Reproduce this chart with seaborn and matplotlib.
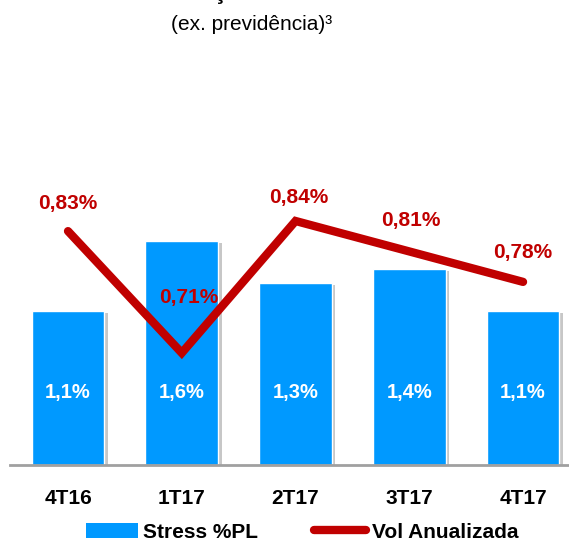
import matplotlib
matplotlib.use("Agg")
import numpy as np
import pandas as pd
import matplotlib.pyplot as plt
import matplotlib.patheffects as pe
from matplotlib.patches import Patch
from matplotlib.lines import Line2D
import seaborn as sns

# dados
trimestres = ["4T16", "1T17", "2T17", "3T17", "4T17"]
stress_pl = [1.1, 1.6, 1.3, 1.4, 1.1]
vol_anual = [0.83, 0.71, 0.84, 0.81, 0.78]

azul = "#0099FF"
vermelho = "#C00000"

sns.set_style("white")
plt.rcParams["font.family"] = ["Liberation Sans", "DejaVu Sans"]
plt.rcParams["text.color"] = "black"
plt.rcParams["xtick.color"] = "black"

df = pd.DataFrame({"trimestre": trimestres, "stress": stress_pl, "vol": vol_anual})

fig = plt.figure(figsize=(5.69, 5.40), dpi=100)
ax = fig.add_axes([10 / 569, 75 / 540, 559 / 569, 365 / 540])

sns.barplot(data=df, x="trimestre", y="stress", color=azul, width=0.64,
            saturation=1, ax=ax)
for p in ax.patches:
    p.set_path_effects([pe.SimplePatchShadow(offset=(2.5, -1.5), shadow_rgbFace="#909090", alpha=0.5),
                        pe.Normal()])

# rotulos das barras
for i, v in enumerate(stress_pl):
    ax.text(i, min(v / 2, 0.52), f"{v:.1f}%".replace(".", ","), ha="center", va="center",
            color="white", fontsize=14.5, fontweight="bold")

ax.set_ylim(0, 365 / 140)
ax.set_xlim(-0.51, 4.404)
ax.set_xlabel("")
ax.set_ylabel("")
ax.set_yticks([])
for s in ["top", "left", "right"]:
    ax.spines[s].set_visible(False)
ax.spines["bottom"].set_color("#A0A0A0")
ax.spines["bottom"].set_linewidth(2)
ax.tick_params(axis="x", length=0, pad=17, labelcolor="black")
for t in ax.get_xticklabels():
    t.set_fontsize(15)
    t.set_fontweight("bold")

ax2 = ax.twinx()
sns.lineplot(x=np.arange(len(vol_anual)), y=vol_anual, color=vermelho, linewidth=6,
             solid_capstyle="round", solid_joinstyle="miter", ax=ax2)
ax2.set_ylim(0.5996, 0.9592)
ax2.set_yticks([])
ax2.set_ylabel("")
for s in ["top", "left", "right", "bottom"]:
    ax2.spines[s].set_visible(False)

lbl_dx = [0, 5, 2, 1, 0]
lbl_dy = [20, 40, 17, 22, 21]
for i, v in enumerate(vol_anual):
    ax2.annotate(f"{v:.2f}%".replace(".", ","), (i, v), xytext=(lbl_dx[i], lbl_dy[i]),
                 textcoords="offset points", ha="center", va="center",
                 color=vermelho, fontsize=15, fontweight="bold")

# titulo (cortado no topo, como na referencia)
fig.text(252 / 569, 1 + 1 / 540, "Utilização de Risco", ha="center", va="baseline",
         fontsize=17, fontweight="bold")
fig.text(252 / 569, 1 - 24 / 540, "(ex. previdência)³", ha="center", va="center",
         fontsize=15)

handles = [Patch(facecolor=azul, edgecolor="none"),
           Line2D([0], [0], color=vermelho, linewidth=6, solid_capstyle="round")]
leg = fig.legend(handles, ["Stress %PL", "Vol Anualizada"], loc="center",
                 bbox_to_anchor=(302 / 569, 8 / 540), ncol=2, frameon=False,
                 handlelength=2.5, handletextpad=0.25, columnspacing=2.7,
                 prop={"size": 15, "weight": "bold"})

fig.savefig("out.png", dpi=100)
